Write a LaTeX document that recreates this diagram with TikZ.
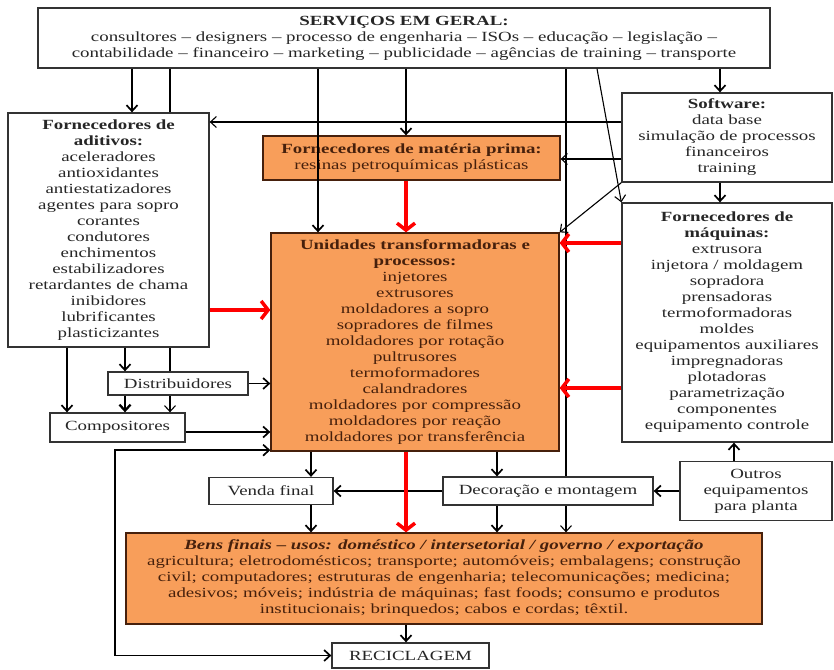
\documentclass[tikz,border=0pt]{standalone}
\usepackage{fontspec}
\setmainfont[FakeStretch=1.35]{Liberation Serif}
\usetikzlibrary{arrows.meta,backgrounds}
\definecolor{laranja}{RGB}{248,158,90}
\definecolor{marrom}{RGB}{70,32,12}

\begin{document}
\begin{tikzpicture}[x=1pt, y=-1pt,
        font=\fontsize{14}{16}\selectfont,
        >={Straight Barb[length=6pt,width=11pt]},
        caixa/.style={draw=black!80, line width=1.3pt, fill=white, text=black!85, align=center, inner sep=0pt},
        caixalar/.style={caixa, draw=marrom, fill=laranja, text=marrom},
        seta/.style={->, line width=1.7pt},
        setafina/.style={->, line width=1.1pt},
        linha/.style={line width=1.5pt},
        setaverm/.style={-{Straight Barb[length=7pt,width=18pt]}, red, line width=3.5pt}]
    \useasboundingbox (0,0) rectangle (834,669);

    \node[caixa, minimum width=732pt, minimum height=60pt] (serv) at (404,38) {%
        {\bfseries SERVIÇOS EM GERAL:}\\
        consultores – designers – processo de engenharia – ISOs – educação – legislação –\\
        contabilidade – financeiro – marketing – publicidade – agências de training – transporte};
    \node[caixa, minimum width=201pt, minimum height=234pt] (adit) at (108.5,230) {%
        {\bfseries Fornecedores de}\\{\bfseries aditivos:}\\
        aceleradores\\antioxidantes\\antiestatizadores\\agentes para sopro\\corantes\\
        condutores\\enchimentos\\estabilizadores\\retardantes de chama\\inibidores\\
        lubrificantes\\plasticizantes};
    \node[caixalar, minimum width=297pt, minimum height=44pt] (mat) at (411.5,158) {%
        {\bfseries Fornecedores de matéria prima:}\\resinas petroquímicas plásticas};
    \node[caixalar, minimum width=288pt, minimum height=218pt] (unid) at (415,342) {%
        {\bfseries Unidades transformadoras e}\\{\bfseries processos:}\\
        injetores\\extrusores\\moldadores a sopro\\sopradores de filmes\\
        moldadores por rotação\\pultrusores\\termoformadores\\calandradores\\
        moldadores por compressão\\moldadores por reação\\moldadores por transferência};
    \node[caixa, minimum width=210pt, minimum height=89pt] (soft) at (727,137.5) {%
        {\bfseries Software:}\\data base\\simulação de processos\\financeiros\\training};
    \node[caixa, minimum width=210pt, minimum height=239pt] (maq) at (727,322.5) {%
        {\bfseries Fornecedores de}\\{\bfseries máquinas:}\\
        extrusora\\injetora / moldagem\\sopradora\\prensadoras\\termoformadoras\\
        moldes\\equipamentos auxiliares\\impregnadoras\\plotadoras\\
        parametrização\\componentes\\equipamento controle};
    \node[caixa, minimum width=140pt, minimum height=23pt] (dist) at (178,383.5) {Distribuidores};
    \node[caixa, minimum width=135pt, minimum height=29pt] (comp) at (117.5,427.5) {Compositores};
    \node[caixa, minimum width=124pt, minimum height=27pt] (venda) at (271,491) {Venda final};
    \node[caixa, minimum width=210pt, minimum height=28pt] (decor) at (548,491) {Decoração e montagem};
    \node[caixa, minimum width=152pt, minimum height=59pt] (outros) at (756,491) {%
        Outros\\equipamentos\\para planta};
    \node[caixalar, minimum width=636pt, minimum height=91pt] (bens) at (444,578.5) {%
        {\bfseries\itshape Bens finais – usos: doméstico / intersetorial / governo / exportação}\\
        agricultura; eletrodomésticos; transporte; automóveis; embalagens; construção\\
        civil; computadores; estruturas de engenharia; telecomunicações; medicina;\\
        adesivos; móveis; indústria de máquinas; fast foods; consumo e produtos\\
        institucionais; brinquedos; cabos e cordas; têxtil.};
    \node[caixa, minimum width=157pt, minimum height=25pt] (recic) at (410.5,655.5) {RECICLAGEM};

    \coordinate (ca) at (67,0);
    \coordinate (cb) at (125,0);
    \coordinate (cc) at (132,0);
    \coordinate (cd) at (170,0);
    \coordinate (ce) at (311,0);
    \coordinate (cf) at (318,0);
    \coordinate (cg) at (406,0);
    \coordinate (ch) at (497,0);
    \coordinate (ci) at (566,0);
    \coordinate (cj) at (597,0);
    \coordinate (ck) at (720,0);
    \coordinate (cl) at (734,0);
    \coordinate (cm) at (115,0);
    \coordinate (ra) at (0,122);
    \coordinate (rb) at (0,159);
    \coordinate (rc) at (0,310);
    \coordinate (rd) at (0,243);
    \coordinate (re) at (0,388);
    \coordinate (rf) at (0,432);

    \begin{pgfonlayer}{background}
        \draw[setafina] (adit.south -| cd) -- (comp.north -| cd);
        \draw[setafina] (serv.south -| ci) -- (bens.north -| ci);
    \end{pgfonlayer}

    \draw[seta] (serv.south -| cc) -- (adit.north -| cc);
    \draw[linha] (serv.south -| cd) -- (adit.north -| cd);
    \draw[seta] (serv.south -| cf) -- (unid.north -| cf);
    \draw[seta] (serv.south -| cg) -- (mat.north -| cg);
    \draw[seta] (serv.south -| ck) -- (soft.north -| ck);
    \draw[setafina] (serv.south -| cj) -- (maq.north west);
    \draw[setafina] (soft.west |- ra) -- (adit.east |- ra);
    \draw[setafina] (soft.west |- rb) -- (mat.east |- rb);
    \draw[setafina] (soft.south west) -- (unid.north east);
    \draw[seta] (soft.south -| ck) -- (maq.north -| ck);
    \draw[setaverm] (mat.south -| cg) -- (unid.north -| cg);
    \draw[setaverm] (adit.east |- rc) -- (unid.west |- rc);
    \draw[setaverm] (maq.west |- rd) -- (unid.east |- rd);
    \draw[setaverm] (maq.west |- re) -- (unid.east |- re);
    \draw[seta] (adit.south -| ca) -- (comp.north -| ca);
    \draw[seta] (adit.south -| cb) -- (dist.north -| cb);
    \draw[seta, line width=2.3pt] (dist.south -| cb) -- (comp.north -| cb);
    \draw[seta] (dist.east) -- (unid.west |- dist.east);
    \draw[seta] (comp.east |- rf) -- (unid.west |- rf);
    \draw[seta] (unid.south -| ce) -- (venda.north -| ce);
    \draw[seta] (unid.south -| ch) -- (decor.north -| ch);
    \draw[seta] (decor.west) -- (venda.east);
    \draw[seta] (outros.west) -- (decor.east);
    \draw[seta] (outros.north -| cl) -- (maq.south -| cl);
    \draw[seta] (venda.south -| ce) -- (bens.north -| ce);
    \draw[seta] (decor.south -| ch) -- (bens.north -| ch);
    \draw[setaverm] (unid.south -| cg) -- (bens.north -| cg);
    \draw[seta] (bens.south -| cg) -- (recic.north -| cg);
    \draw[seta, <->] ([yshift=1.5pt]unid.south west) -| (cm |- recic.west) -- (recic.west);
\end{tikzpicture}
\end{document}
